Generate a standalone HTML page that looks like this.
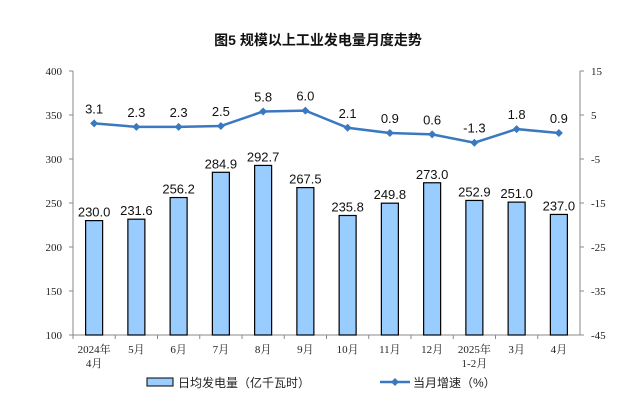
<!DOCTYPE html>
<html><head><meta charset="utf-8"><style>
body{margin:0;background:#fff;}
text{font-family:"Liberation Sans","Noto Sans CJK SC",sans-serif;}
.tick{font-family:"Liberation Serif","Noto Serif CJK SC",serif;font-size:11px;fill:#222;}
</style></head><body>
<svg id="c" width="635" height="407" xmlns="http://www.w3.org/2000/svg">
<text x="318" y="45" text-anchor="middle" font-size="14" font-weight="bold" fill="#111">图5  规模以上工业发电量月度走势</text>
<g id="g"></g>
<g>
<rect x="147" y="378" width="26" height="8" fill="#99ccff" stroke="#000" stroke-width="1"/>
<text x="178" y="387" font-size="12" fill="#222">日均发电量（亿千瓦时）</text>
<line x1="380" y1="382" x2="410" y2="382" stroke="#3a78c0" stroke-width="2.5"/>
<path d="M395 378 L399 382 L395 386 L391 382Z" fill="#3a78c0"/>
<text x="413" y="387" font-size="12" fill="#222">当月增速（%）</text>
</g>
</svg>
<script>
const categories=["2024年|4月","5月","6月","7月","8月","9月","10月","11月","12月","2025年|1-2月","3月","4月"];
const barValues=[230.0,231.6,256.2,284.9,292.7,267.5,235.8,249.8,273.0,252.9,251.0,237.0];
const lineValues=[3.1,2.3,2.3,2.5,5.8,6.0,2.1,0.9,0.6,-1.3,1.8,0.9];
const leftTicks=[100,150,200,250,300,350,400];
const rightTicks=[-45,-35,-25,-15,-5,5,15];
const NS="http://www.w3.org/2000/svg";
const X0=73,X1=580,YT=71,YB=335;
const band=(X1-X0)/categories.length;
const xc=i=>X0+band*(i+0.5);
const yL=v=>YB-(v-100)/300*(YB-YT);
const yR=v=>YB-(v+45)/60*(YB-YT);
const g=document.getElementById('g');
function mk(t,a,txt){const e=document.createElementNS(NS,t);for(const k in a)e.setAttribute(k,a[k]);if(txt!=null)e.textContent=txt;g.appendChild(e);return e;}
let e;
e=mk('line',{x1:X0,y1:YT,x2:X0,y2:YB,stroke:'#888'});


e=mk('line',{x1:X1,y1:YT,x2:X1,y2:YB,stroke:'#888'});


e=mk('line',{x1:X0,y1:YB,x2:X1,y2:YB,stroke:'#888'});


leftTicks.forEach(v=>{mk('line',{x1:X0-4,y1:yL(v),x2:X0,y2:yL(v),stroke:'#888'});
e=mk('text',{x:X0-11,y:yL(v)+4,'text-anchor':'end',class:'tick'},v);

});
rightTicks.forEach(v=>{mk('line',{x1:X1,y1:yR(v),x2:X1+4,y2:yR(v),stroke:'#888'});
e=mk('text',{x:X1+11,y:yR(v)+4,'text-anchor':'start',class:'tick'},v);

});
categories.forEach((c,i)=>{
 mk('line',{x1:X0+band*i,y1:YB,x2:X0+band*i,y2:YB+4,stroke:'#888'});
 c.split('|').forEach((s,j)=>{e=mk('text',{x:xc(i),y:YB+18+j*14,'text-anchor':'middle',class:'tick'},s);
 
 });
});
barValues.forEach((v,i)=>{
 e=mk('rect',{x:xc(i)-8.5,y:yL(v),width:17,height:YB-yL(v),fill:'#99ccff',stroke:'#000','stroke-width':1.2});
 
 
 e=mk('text',{x:xc(i),y:yL(v)-4,'text-anchor':'middle','font-size':13,fill:'#111'},v.toFixed(1));
 
 
});
e=mk('polyline',{points:lineValues.map((v,i)=>xc(i)+','+yR(v)).join(' '),fill:'none',stroke:'#3a78c0','stroke-width':2.5});


lineValues.forEach((v,i)=>{
 const x=xc(i),y=yR(v);
 e=mk('path',{d:`M${x} ${y-4}L${x+4} ${y}L${x} ${y+4}L${x-4} ${y}Z`,fill:'#3a78c0'});
 
 
 e=mk('text',{x:x,y:y-10,'text-anchor':'middle','font-size':13,fill:'#111'},v.toFixed(1));
 
 
});
</script>
</body></html>
